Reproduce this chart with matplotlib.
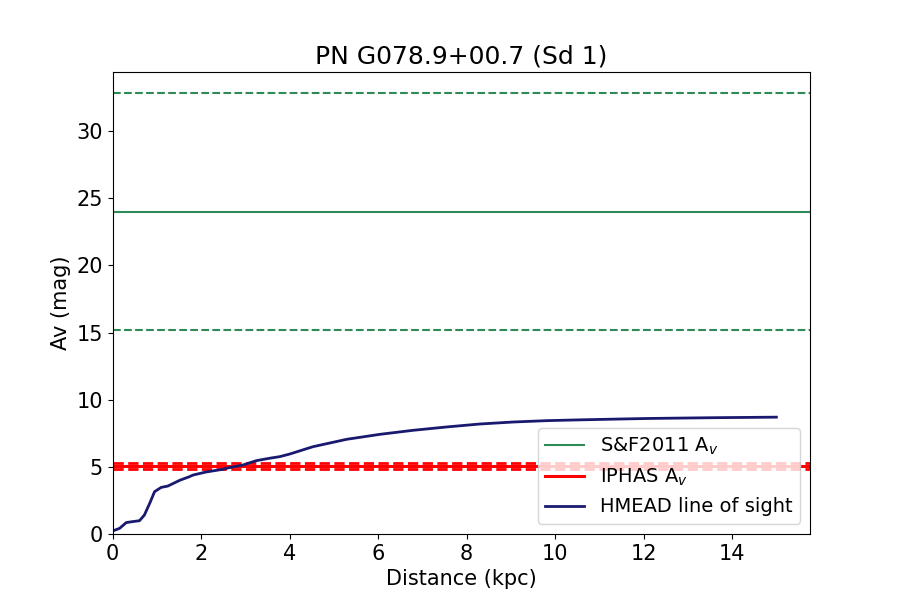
import matplotlib
matplotlib.use("Agg")
import matplotlib.pyplot as plt
import numpy as np

title = "PN G078.9+00.7 (Sd 1)"

# HMEAD line of sight
dist_kpc = [0.0, 0.16, 0.31, 0.45, 0.61, 0.72, 0.84, 0.95, 1.10, 1.25, 1.52, 1.74, 1.82,
            2.12, 2.50, 2.57, 2.95, 3.25, 3.55, 3.78, 4.0, 4.53, 5.29, 6.04, 6.79,
            7.55, 8.3, 9.06, 9.81, 10.57, 11.3, 12.07, 12.8, 13.58, 14.3, 15.0]
av_mag = [0.22, 0.42, 0.85, 0.92, 0.99, 1.41, 2.28, 3.15, 3.47, 3.57, 4.0, 4.27, 4.39,
          4.62, 4.82, 4.89, 5.14, 5.46, 5.64, 5.76, 5.95, 6.5, 7.05, 7.42, 7.72,
          7.97, 8.19, 8.34, 8.44, 8.5, 8.55, 8.6, 8.63, 8.66, 8.68, 8.7]

sf_av = 24.0
sf_err = 8.8
iphas_av = 5.05
iphas_err = 0.23

fig, ax = plt.subplots(figsize=(9, 6), dpi=100)

ax.axhline(sf_av, color="seagreen", lw=1.5, label="S&F2011 A$_v$")
ax.axhline(sf_av + sf_err, color="seagreen", lw=1.5, ls="--")
ax.axhline(sf_av - sf_err, color="seagreen", lw=1.5, ls="--")

ax.axhline(iphas_av, color="red", lw=2.2, label="IPHAS A$_v$")
ax.axhline(iphas_av + iphas_err, color="red", lw=2, ls="--")
ax.axhline(iphas_av - iphas_err, color="red", lw=2, ls="--")

ax.plot(dist_kpc, av_mag, color="midnightblue", lw=2, label="HMEAD line of sight")

ax.set_xlim(0, 15.76)
ax.set_ylim(0, 34.4)
ax.set_title(title, fontsize=18)
ax.set_xlabel("Distance (kpc)", fontsize=15)
ax.set_ylabel("Av (mag)", fontsize=15)
ax.tick_params(labelsize=15)
ax.legend(loc="lower right", fontsize=14)

fig.savefig("out.png", dpi=100)
